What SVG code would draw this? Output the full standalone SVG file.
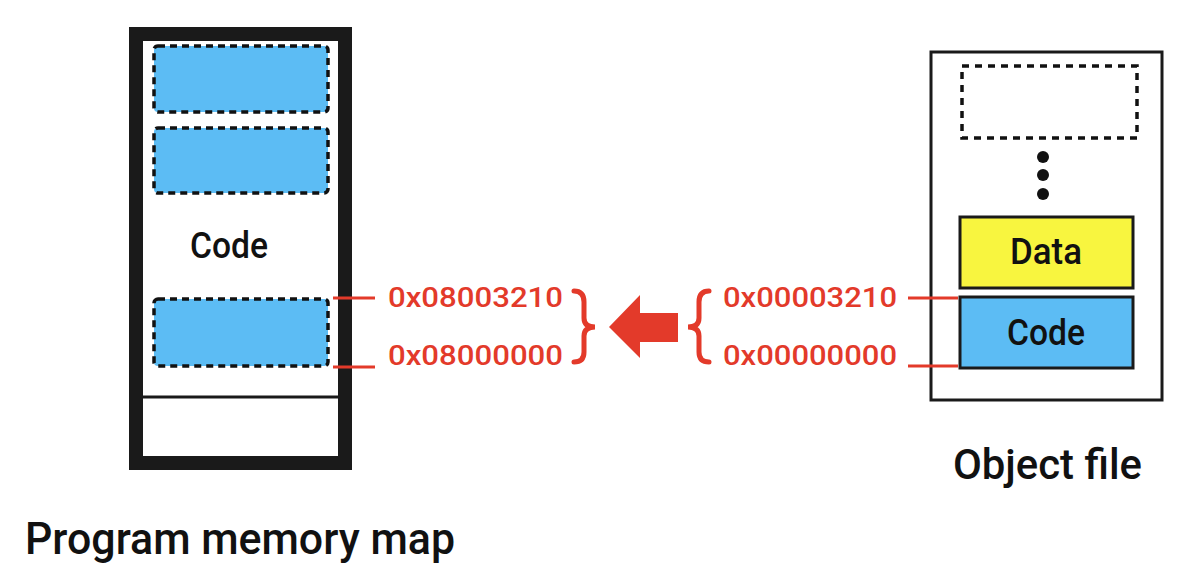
<svg xmlns="http://www.w3.org/2000/svg" width="1192" height="578" viewBox="0 0 1192 578">
<style>
.lbl{font-family:Roboto,"Liberation Sans",Arial,sans-serif;fill:#111;font-weight:500;}
.addr{font-family:Roboto,"Liberation Sans",Arial,sans-serif;fill:#e33a2a;font-size:28.5px;font-weight:500;}
.seg{fill:#5cbcf4;stroke:#111;stroke-width:3.5;stroke-dasharray:7 5;}
.tick{stroke:#e33a2a;stroke-width:3;fill:none;}
.brace{stroke:#e33a2a;stroke-width:5;fill:none;stroke-linecap:round;}
</style>
<rect width="1192" height="578" fill="#fff"/>
<g id="memory-map">
<rect x="136" y="34" width="209" height="429" fill="#fff" stroke="#1a1a1a" stroke-width="14"/>
<line x1="143" y1="397" x2="338" y2="397" stroke="#1a1a1a" stroke-width="3"/>
<rect class="seg" x="154" y="46" width="174" height="66" rx="4"/>
<rect class="seg" x="154" y="128" width="174" height="65" rx="4"/>
<rect class="seg" x="154" y="299" width="174" height="67" rx="4"/>
<text class="lbl" x="190" y="258" font-size="37" textLength="78" lengthAdjust="spacingAndGlyphs">Code</text>
</g>
<g id="object-file">
<rect x="931" y="52" width="231" height="348" fill="#fff" stroke="#1a1a1a" stroke-width="3"/>
<rect x="962" y="66" width="175" height="72" fill="none" stroke="#111" stroke-width="3.5" stroke-dasharray="7 6"/>
<circle cx="1043" cy="157" r="6" fill="#111"/>
<circle cx="1043" cy="175" r="6" fill="#111"/>
<circle cx="1043" cy="194" r="6" fill="#111"/>
<rect x="960" y="217" width="173" height="71" fill="#f8f53f" stroke="#1a1a1a" stroke-width="3"/>
<text class="lbl" x="1046" y="264" font-size="36" text-anchor="middle" textLength="72" lengthAdjust="spacingAndGlyphs">Data</text>
<rect x="960" y="297" width="173" height="71" fill="#5cbcf4" stroke="#1a1a1a" stroke-width="3"/>
<text class="lbl" x="1046" y="345" font-size="36" text-anchor="middle" textLength="78" lengthAdjust="spacingAndGlyphs">Code</text>
</g>
<g id="connectors">
<line class="tick" x1="333" y1="298" x2="375" y2="298"/>
<line class="tick" x1="333" y1="367" x2="375" y2="367"/>
<line class="tick" x1="908" y1="298" x2="958" y2="298"/>
<line class="tick" x1="908" y1="366" x2="958" y2="366"/>
<path class="brace" d="M574,291 Q584,291 584,302 L584,318 Q584,327 595,327 Q584,327 584,336 L584,352 Q584,362 574,362"/>
<path class="brace" d="M709,291 Q699,291 699,302 L699,318 Q699,327 688,327 Q699,327 699,336 L699,352 Q699,362 709,362"/>
<polygon points="609,327 640,295 640,313 678,313 678,342 640,342 640,358" fill="#e33a2a"/>
</g>
<g id="addresses">
<text class="addr" x="388" y="307" textLength="175" lengthAdjust="spacingAndGlyphs">0x08003210</text>
<text class="addr" x="388" y="365" textLength="175" lengthAdjust="spacingAndGlyphs">0x08000000</text>
<text class="addr" x="723" y="307" textLength="174" lengthAdjust="spacingAndGlyphs">0x00003210</text>
<text class="addr" x="723" y="365" textLength="174" lengthAdjust="spacingAndGlyphs">0x00000000</text>
</g>
<g id="captions">
<text class="lbl" x="25" y="554" font-size="45" textLength="430" lengthAdjust="spacingAndGlyphs">Program memory map</text>
<text class="lbl" x="953" y="479" font-size="43" textLength="189" lengthAdjust="spacingAndGlyphs">Object file</text>
</g>
</svg>
